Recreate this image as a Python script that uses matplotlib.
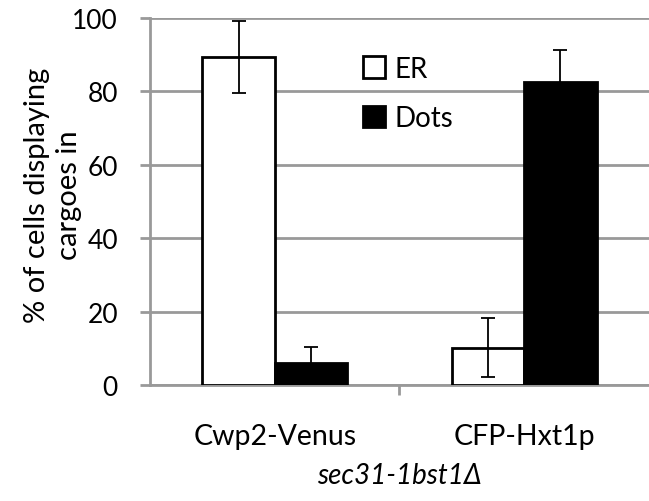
import numpy as np
import matplotlib.pyplot as plt

# values
categories = ['Cwp2-Venus', 'CFP-Hxt1p']
er_vals = [89.3, 10.2]
er_err = [9.8, 8.0]
dots_vals = [6.0, 82.5]
dots_err = [4.5, 8.7]
series_names = ['ER', 'Dots']
yticks = [0, 20, 40, 60, 80, 100]

plt.rcParams['font.family'] = ['Lato', 'DejaVu Sans']

fig = plt.figure(figsize=(6.49, 5.02), dpi=100)
ax = fig.add_axes([0.231, 0.231, 0.769, 0.731])

x = np.arange(len(categories))
w = 0.29
grid_col = '#999999'

ax.bar(x - w / 2, er_vals, w, color='white', edgecolor='black', linewidth=2,
       label=series_names[0], zorder=3)
ax.bar(x + w / 2, dots_vals, w, color='black', edgecolor='black', linewidth=2,
       label=series_names[1], zorder=3)
ax.errorbar(x - w / 2, er_vals, yerr=er_err, fmt='none', ecolor='black',
            elinewidth=1.3, capsize=5, capthick=1.3, zorder=4)
ax.errorbar(x + w / 2, dots_vals, yerr=dots_err, fmt='none', ecolor='black',
            elinewidth=1.3, capsize=5, capthick=1.3, zorder=4)

ax.set_xlim(-0.5, 1.5)
ax.set_ylim(0, 100)
ax.set_yticks(yticks)
ax.yaxis.grid(True, color=grid_col, linewidth=2, zorder=0)
ax.set_axisbelow(True)

# major ticks between categories, labels on minor ticks
ax.set_xticks([0.5])
ax.set_xticklabels([''])
ax.set_xticks(x, minor=True)
ax.set_xticklabels(categories, minor=True, fontsize=20.5)
ax.tick_params(axis='x', which='minor', length=0, pad=27)
ax.tick_params(axis='x', which='major', length=7, width=2, color=grid_col)
ax.tick_params(axis='y', length=7, width=2, color=grid_col, labelsize=19, pad=16)

for s in ['top', 'right']:
    ax.spines[s].set_visible(False)
for s in ['left', 'bottom']:
    ax.spines[s].set_color(grid_col)
    ax.spines[s].set_linewidth(2)

ax.set_ylabel('% of cells displaying\ncargoes in', fontsize=21, linespacing=1.3)
ax.yaxis.set_label_coords(-0.136, 0.52)
ax.set_xlabel('sec31-1bst1Δ', fontsize=20, style='italic', labelpad=10)

ax.legend(loc='upper left', bbox_to_anchor=(0.376, 0.966), frameon=False,
          fontsize=20, handlelength=0.8, handleheight=0.8, handletextpad=0.35,
          labelspacing=0.85)

fig.savefig('out.png', dpi=100)
